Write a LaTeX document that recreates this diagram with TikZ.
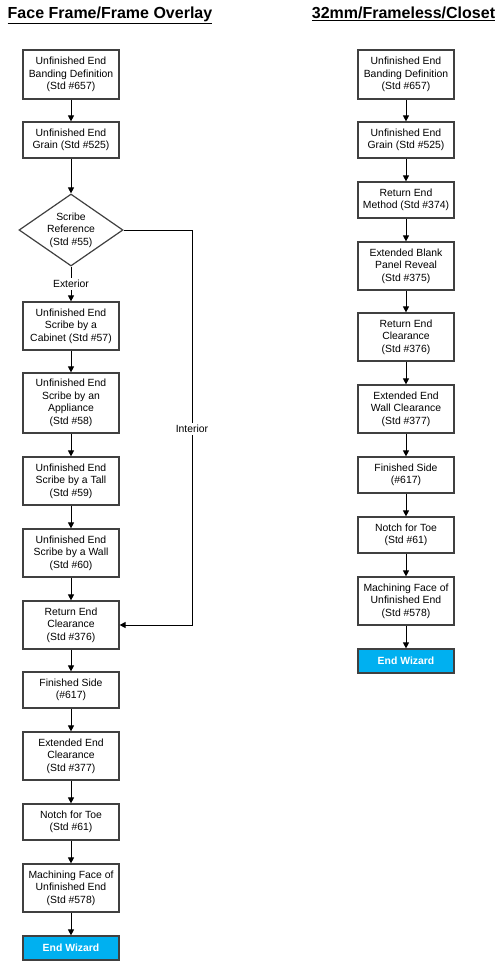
\documentclass[tikz,border=0pt]{standalone}
\usepackage{fontspec}
\setmainfont{Liberation Sans}
\usetikzlibrary{arrows.meta,shapes.geometric}
\definecolor{bord}{HTML}{404040}
\definecolor{wiz}{HTML}{00B0F0}
\begin{document}
\begin{tikzpicture}[x=0.75pt,y=-0.75pt,
  every node/.style={font=\fontsize{7.8}{9.4}\selectfont},
  stepbox/.style={draw=bord,line width=0.9pt,fill=white,minimum width=72pt,inner sep=0pt,align=center},
  hthree/.style={minimum height=36pt},
  htwo/.style={minimum height=27pt},
  hfour/.style={minimum height=45pt},
  wizbox/.style={draw=bord,line width=0.9pt,fill=wiz,minimum width=72pt,minimum height=18pt,inner sep=0pt,text=white,font=\fontsize{7.8}{9.4}\selectfont\bfseries},
  conn/.style={draw=black,line width=0.75pt,-{Triangle[length=4.5pt,width=4.5pt]}},
  lbl/.style={fill=white,inner sep=1.5pt},
  ttl/.style={font=\fontsize{12}{14}\selectfont\bfseries,anchor=base}
]
\useasboundingbox (0,0) rectangle (503,961);
% titles
\node[ttl] (t1) at (110,18) {\underline{Face Frame/Frame Overlay}};
\node[ttl] (t2) at (403.5,18) {\underline{32mm/Frameless/Closet}};
% left column
\node[stepbox,minimum height=36.75pt] (L1) at (71,74.5) {Unfinished End\\Banding Definition\\(Std \#657)};
\node[stepbox,htwo] (L2) at (71,140) {Unfinished End\\Grain (Std \#525)};
\node[draw=bord,line width=0.9pt,diamond,aspect=1.44,minimum width=78pt,minimum height=54pt,inner sep=0pt,align=center] (D) at (71,230) {Scribe\\Reference\\(Std \#55)};
\node[stepbox,hthree] (L4) at (71,326) {Unfinished End\\Scribe by a\\Cabinet (Std \#57)};
\node[stepbox,hfour] (L5) at (71,403) {Unfinished End\\Scribe by an\\Appliance\\(Std \#58)};
\node[stepbox,hthree] (L6) at (71,481) {Unfinished End\\Scribe by a Tall\\(Std \#59)};
\node[stepbox,hthree] (L7) at (71,553) {Unfinished End\\Scribe by a Wall\\(Std \#60)};
\node[stepbox,hthree] (L8) at (71,625) {Return End\\Clearance\\(Std \#376)};
\node[stepbox,htwo] (L9) at (71,690) {Finished Side\\(\#617)};
\node[stepbox,hthree] (L10) at (71,756) {Extended End\\Clearance\\(Std \#377)};
\node[stepbox,htwo] (L11) at (71,822) {Notch for Toe\\(Std \#61)};
\node[stepbox,hthree] (L12) at (71,888) {Machining Face of\\Unfinished End\\(Std \#578)};
\node[wizbox] (L13) at (71,948) {End Wizard};
% left connectors
\draw[conn] (L1) -- (L2);
\draw[conn] (L2) -- (D);
\draw[conn] (D) -- node[lbl] (ext) {Exterior} (L4);
\draw[conn] (L4) -- (L5);
\draw[conn] (L5) -- (L6);
\draw[conn] (L6) -- (L7);
\draw[conn] (L7) -- (L8);
\draw[conn] (L8) -- (L9);
\draw[conn] (L9) -- (L10);
\draw[conn] (L10) -- (L11);
\draw[conn] (L11) -- (L12);
\draw[conn] (L12) -- (L13);
\coordinate (c1) at (192,230);
\coordinate (c2) at (192,625);
\draw[conn] (D.east) -- (c1) -- node[lbl,pos=0.503] (int) {Interior} (c2) -- (L8.east);
% right column
\node[stepbox,minimum height=36.75pt] (R1) at (406,74.5) {Unfinished End\\Banding Definition\\(Std \#657)};
\node[stepbox,htwo] (R2) at (406,140) {Unfinished End\\Grain (Std \#525)};
\node[stepbox,htwo] (R3) at (406,200) {Return End\\Method (Std \#374)};
\node[stepbox,hthree] (R4) at (406,266) {Extended Blank\\Panel Reveal\\(Std \#375)};
\node[stepbox,hthree] (R5) at (406,337) {Return End\\Clearance\\(Std \#376)};
\node[stepbox,hthree] (R6) at (406,409) {Extended End\\Wall Clearance\\(Std \#377)};
\node[stepbox,htwo] (R7) at (406,475) {Finished Side\\(\#617)};
\node[stepbox,htwo] (R8) at (406,535) {Notch for Toe\\(Std \#61)};
\node[stepbox,hthree] (R9) at (406,601) {Machining Face of\\Unfinished End\\(Std \#578)};
\node[wizbox] (R10) at (406,661) {End Wizard};
\draw[conn] (R1) -- (R2);
\draw[conn] (R2) -- (R3);
\draw[conn] (R3) -- (R4);
\draw[conn] (R4) -- (R5);
\draw[conn] (R5) -- (R6);
\draw[conn] (R6) -- (R7);
\draw[conn] (R7) -- (R8);
\draw[conn] (R8) -- (R9);
\draw[conn] (R9) -- (R10);
\end{tikzpicture}
\end{document}
